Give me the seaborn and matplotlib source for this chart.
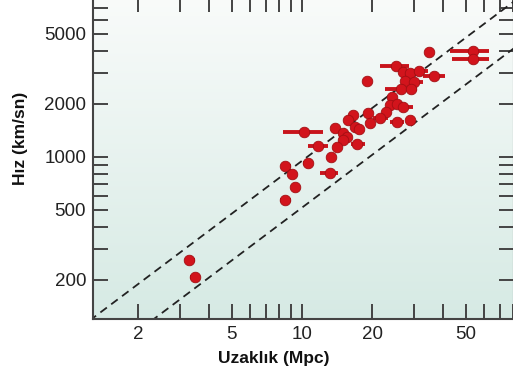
import numpy as np
import matplotlib
matplotlib.use("Agg")
import matplotlib.pyplot as plt
import matplotlib.ticker as mticker
from matplotlib.colors import LinearSegmentedColormap
import seaborn as sns

# galaxies: distance (Mpc) and velocity (km/s)
dist = [34.9, 53.8, 53.8, 25.1, 27.1, 28.9, 31.7, 36.6, 18.9, 27.5, 30.0,
        26.4, 29.2, 24.2, 23.8, 25.5, 26.9, 22.9, 19.2, 16.6, 15.8, 21.5,
        19.5, 25.5, 28.9, 16.9, 17.5, 13.8, 10.2, 15.0, 15.6, 15.0, 11.7,
        14.1, 17.2, 13.3, 10.6, 8.5, 13.2, 9.1, 9.3, 8.5, 3.30, 3.49]
vel = [3925, 3980, 3580, 3300, 3030, 3000, 3060, 2900, 2690, 2710, 2680,
       2425, 2425, 2190, 1975, 2000, 1930, 1810, 1780, 1735, 1620, 1660,
       1560, 1580, 1615, 1485, 1450, 1465, 1380, 1360, 1305, 1250, 1160,
       1145, 1185, 995, 920, 890, 815, 795, 675, 570, 260, 209]
nan = np.nan
# horizontal error bar ends (nan = no bar)
dist_lo = [nan, 42.9, 43.8, 21.5, nan, nan, 29.8, 32.9, nan, nan, 27.5,
           22.6, 27.5, nan, nan, nan, 25.0, nan, nan, nan, nan, 20.1,
           nan, 23.8, nan, nan, nan, nan, 8.3, nan, nan, nan, 10.6,
           nan, 16.2, nan, 10.1, 8.1, 11.9, nan, nan, 8.05, 3.16, 3.32]
dist_hi = [nan, 63.0, 63.0, 28.7, nan, nan, 34.5, 40.8, nan, nan, 32.9,
           27.8, 31.0, nan, nan, nan, 29.8, nan, nan, nan, nan, 23.3,
           nan, 27.3, nan, nan, nan, nan, 12.3, nan, nan, nan, 12.9,
           nan, 18.6, nan, 11.1, 9.0, 14.3, nan, nan, 9.0, 3.49, 3.66]

# slopes of the two dashed lines (km/s/Mpc)
h_lines = [95, 51.5]

x_ticks = [2, 5, 10, 20, 50]
y_ticks = [200, 500, 1000, 2000, 5000]

sns.set_style("ticks")
plt.rcParams['font.family'] = ['Liberation Sans', 'DejaVu Sans']

fig = plt.figure(figsize=(5.13, 3.69), dpi=100)
ax = fig.add_axes([93 / 513, 50 / 369, 421 / 513, 322 / 369])
ax.set_xscale('log')
ax.set_yscale('log')
ax.set_xlim(1.28, 80.5)
ax.set_ylim(120, 8100)

# soft background gradient
cmap = LinearSegmentedColormap.from_list('bg', ['#d6eae4', '#f9fbfa'])
grad = np.linspace(0, 1, 256).reshape(-1, 1)
ax.imshow(grad, cmap=cmap, aspect='auto', origin='lower',
          extent=[0, 1, 0, 1], transform=ax.transAxes, zorder=0)

xx = np.array([1.0, 100.0])
for h in h_lines:
    ax.plot(xx, h * xx, color='#222222', lw=1.3, ls=(0, (4.5, 3)), zorder=1)

ax.hlines(vel, dist_lo, dist_hi, color='#c8141c', lw=2.8, zorder=2)
sns.scatterplot(x=dist, y=vel, ax=ax, s=58, color='#d2141c',
                edgecolor='#a30f13', linewidth=0.6, zorder=3, legend=False)

ax.xaxis.set_major_locator(mticker.FixedLocator(x_ticks))
ax.yaxis.set_major_locator(mticker.FixedLocator(y_ticks))
ax.xaxis.set_major_formatter(mticker.FixedFormatter([str(t) for t in x_ticks]))
ax.yaxis.set_major_formatter(mticker.FixedFormatter([str(t) for t in y_ticks]))
ax.xaxis.set_minor_locator(mticker.LogLocator(base=10, subs=np.arange(2, 10)))
ax.yaxis.set_minor_locator(mticker.LogLocator(base=10, subs=np.arange(2, 10)))
ax.xaxis.set_minor_formatter(mticker.NullFormatter())
ax.yaxis.set_minor_formatter(mticker.NullFormatter())
ax.tick_params(which='both', direction='in', length=11, width=1.4,
               color='#444444', top=True, right=True)
ax.tick_params(which='major', labelsize=13.5, labelcolor='#222222', pad=5)
for s in ax.spines.values():
    s.set_linewidth(1.5)
    s.set_color('#444444')

ax.set_xlabel('Uzaklık (Mpc)', fontsize=12.5, fontweight='bold', color='#111111')
ax.set_ylabel('Hız (km/sn)', fontsize=12.5, fontweight='bold', color='#111111')
ax.xaxis.set_label_coords(0.43, -0.10)
ax.yaxis.set_label_coords(-0.155, 0.56)

fig.savefig('out.png', dpi=100)
